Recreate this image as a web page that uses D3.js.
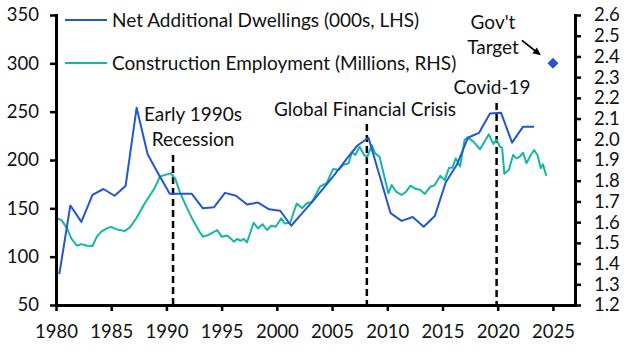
<!DOCTYPE html>
<html>
<head>
<meta charset="utf-8">
<script src="https://cdnjs.cloudflare.com/ajax/libs/d3/7.8.5/d3.min.js"></script>
<style>
  html, body { margin: 0; padding: 0; background: #fff; }
  svg { display: block; font-family: Lato, "Open Sans", sans-serif; }
  .axis path { stroke: #000; stroke-width: 3; stroke-linecap: square; }
  .axis line { stroke: #000; stroke-width: 2.5; }
  .axis text { font-family: Lato, sans-serif; font-size: 18.5px; fill: #111; }
  .lbl { font-size: 19px; fill: #111; }
</style>
</head>
<body>
<svg id="chart"></svg>
<script>
// Net additional dwellings, 000s (financial years, LHS)
const dwellYears = [1980, 1981, 1982, 1983, 1984, 1985, 1986, 1987, 1988, 1989,
  1990, 1991, 1992, 1993, 1994, 1995, 1996, 1997, 1998, 1999,
  2000, 2001, 2002, 2003, 2004, 2005, 2006, 2007, 2008, 2009,
  2010, 2011, 2012, 2013, 2014, 2015, 2016, 2017, 2018, 2019,
  2020, 2021, 2022, 2023];
const dwellings = [82, 153, 136, 164, 170, 163, 173, 254, 206, 185,
  165, 165, 165, 150, 151, 166, 163, 154, 156, 149,
  147.5, 132, 145, 158, 172, 186, 201, 215, 223, 184,
  145, 137, 141, 131, 142, 177, 195, 223, 228, 248,
  249, 218, 234.5, 234.5];

// Construction employment, millions (RHS)
const empDates = [1980.0, 1980.5, 1981.0, 1981.4, 1981.9, 1982.3, 1982.8, 1983.3, 1983.7, 1984.1,
  1984.6, 1985.0, 1985.5, 1986.2, 1986.7, 1987.3, 1987.6, 1988.1, 1988.4, 1989.0,
  1989.4, 1989.9, 1990.4, 1990.8, 1991.2, 1991.8, 1992.4, 1992.9, 1993.3, 1993.8,
  1994.6, 1995.0, 1995.5, 1995.8, 1996.1, 1996.4, 1996.7, 1997.0, 1997.3, 1997.9,
  1998.3, 1998.7, 1999.1, 1999.5, 1999.9, 2000.4, 2000.7, 2001.2, 2001.8, 2002.3,
  2002.7, 2003.2, 2003.9, 2004.5, 2005.1, 2005.6, 2006.0, 2006.5, 2006.8, 2007.1,
  2007.5, 2007.9, 2008.2, 2008.6, 2008.9, 2009.3, 2009.7, 2010.1, 2010.4, 2010.8,
  2011.3, 2011.7, 2012.1, 2012.5, 2013.0, 2013.4, 2013.9, 2014.3, 2014.8, 2015.2,
  2015.6, 2015.9, 2016.2, 2016.6, 2017.0, 2017.3, 2017.8, 2018.4, 2019.2, 2019.6,
  2019.9, 2020.2, 2020.4, 2020.6, 2021.0, 2021.4, 2021.7, 2022.0, 2022.3, 2022.6,
  2023.0, 2023.3, 2023.6, 2023.9, 2024.1, 2024.4];
const employment = [1.62, 1.61, 1.57, 1.52, 1.486, 1.494, 1.486, 1.485, 1.53, 1.554,
  1.57, 1.577, 1.565, 1.557, 1.575, 1.621, 1.65, 1.696, 1.72, 1.771,
  1.82, 1.828, 1.836, 1.81, 1.747, 1.675, 1.61, 1.562, 1.53, 1.538,
  1.562, 1.53, 1.535, 1.522, 1.506, 1.519, 1.51, 1.519, 1.503, 1.597,
  1.57, 1.59, 1.562, 1.583, 1.578, 1.619, 1.594, 1.597, 1.69, 1.667,
  1.69, 1.699, 1.771, 1.788, 1.857, 1.852, 1.876, 1.884, 1.937, 1.924,
  1.964, 1.924, 1.916, 1.972, 1.932, 1.916, 1.828, 1.739, 1.779, 1.747,
  1.731, 1.747, 1.776, 1.762, 1.755, 1.736, 1.771, 1.779, 1.824, 1.803,
  1.863, 1.863, 1.908, 1.868, 1.997, 2.008, 1.989, 1.952, 2.024, 1.978,
  1.998, 1.964, 1.96, 1.834, 1.852, 1.924, 1.908, 1.916, 1.935, 1.884,
  1.924, 1.948, 1.924, 1.86, 1.879, 1.824];

// Government target (LHS)
const targetYear = 2025;
const targetValue = 300;

// Events marked with dashed lines
const events = [
  { year: 1990.6, lines: ["Early 1990s", "Recession"] },
  { year: 2008.15, lines: ["Global Financial Crisis"] },
  { year: 2019.9, lines: ["Covid-19"] },
];

const xTicks = [1980, 1985, 1990, 1995, 2000, 2005, 2010, 2015, 2020, 2025];
const yLTicks = [50, 100, 150, 200, 250, 300, 350];
const yRTicks = d3.range(12, 27).map(d => d / 10);

const seriesNames = ["Net Additional Dwellings (000s, LHS)", "Construction Employment (Millions, RHS)"];
const blue = "#2356d1";
const teal = "#14b6a6";

const W = 630, H = 354;
const svg = d3.select("#chart").attr("width", W).attr("height", H);

const x  = d3.scaleLinear().domain([1980, 2027]).range([56, 575]);
const yL = d3.scaleLinear().domain([50, 350]).range([305, 15]);
const yR = d3.scaleLinear().domain([1.2, 2.6]).range([305, 15]);

// Dashed event lines + labels
const evTop = [155, 124, 103];
const evText = [[121, 146], [115.5], [94.3]];
const evCx = [193, 365, 492];
events.forEach((ev, i) => {
  svg.append("line")
    .attr("x1", x(ev.year)).attr("x2", x(ev.year))
    .attr("y1", evTop[i]).attr("y2", yL(50))
    .attr("stroke", "#000").attr("stroke-width", 2.5)
    .attr("stroke-dasharray", "7,4");
  ev.lines.forEach((t, j) => {
    svg.append("text").attr("class", "lbl")
      .attr("x", evCx[i]).attr("y", evText[i][j])
      .attr("text-anchor", "middle").text(t);
  });
});

// Lines
const lineL = d3.line().x((d, i) => x(dwellYears[i] + 0.3)).y(d => yL(d));
const lineR = d3.line().x((d, i) => x(empDates[i])).y(d => yR(d));

svg.append("path").datum(employment)
  .attr("fill", "none").attr("stroke", teal).attr("stroke-width", 2)
  .attr("stroke-linejoin", "round").attr("d", lineR);

svg.append("path").datum(dwellings)
  .attr("fill", "none").attr("stroke", blue).attr("stroke-width", 2)
  .attr("stroke-linejoin", "round").attr("d", lineL);

// Target diamond
const tx = x(targetYear), ty = yL(targetValue);
svg.append("path")
  .attr("d", `M${tx},${ty - 5.5}L${tx + 5.5},${ty}L${tx},${ty + 5.5}L${tx - 5.5},${ty}Z`)
  .attr("fill", blue);

svg.append("text").attr("class", "lbl").attr("x", 493).attr("y", 29)
  .attr("text-anchor", "middle").text("Gov't");
svg.append("text").attr("class", "lbl").attr("x", 493).attr("y", 53.5)
  .attr("text-anchor", "middle").text("Target");

// Arrow to the target
const ax2 = tx - 12, ay2 = ty - 8, ax1 = ax2 - 19, ay1 = ay2 - 15;
svg.append("line")
  .attr("x1", ax1).attr("y1", ay1).attr("x2", ax2 - 3).attr("y2", ay2 - 2.4)
  .attr("stroke", "#000").attr("stroke-width", 1.8);
const ang = Math.atan2(ay2 - ay1, ax2 - ax1);
const hl = 8, hw = 3.6;
const bx = ax2 - hl * Math.cos(ang), by = ay2 - hl * Math.sin(ang);
svg.append("path")
  .attr("d", `M${ax2},${ay2}L${bx + hw * Math.sin(ang)},${by - hw * Math.cos(ang)}L${bx - hw * Math.sin(ang)},${by + hw * Math.cos(ang)}Z`)
  .attr("fill", "#000");

// Axes
svg.append("g").attr("class", "axis")
  .attr("transform", `translate(0,${yL(50)})`)
  .call(d3.axisBottom(x).tickValues(xTicks).tickFormat(d3.format("d"))
    .tickSize(6).tickSizeOuter(0).tickPadding(13.5));

svg.append("g").attr("class", "axis")
  .attr("transform", `translate(${x(1980)},0)`)
  .call(d3.axisLeft(yL).tickValues(yLTicks).tickSize(6).tickSizeOuter(0).tickPadding(11));

svg.append("g").attr("class", "axis")
  .attr("transform", `translate(${x(2027)},0)`)
  .call(d3.axisRight(yR).tickValues(yRTicks).tickFormat(d3.format(".1f"))
    .tickSize(6).tickSizeOuter(0).tickPadding(13));

// Legend
const lg = svg.append("g");
[blue, teal].forEach((c, i) => {
  const ly = 20 + i * 43;
  lg.append("line").attr("x1", 65).attr("x2", 107).attr("y1", ly).attr("y2", ly)
    .attr("stroke", c).attr("stroke-width", 2);
  lg.append("text").attr("class", "lbl").attr("x", 112).attr("y", ly + 6.5)
    .text(seriesNames[i]);
});
</script>
</body>
</html>
